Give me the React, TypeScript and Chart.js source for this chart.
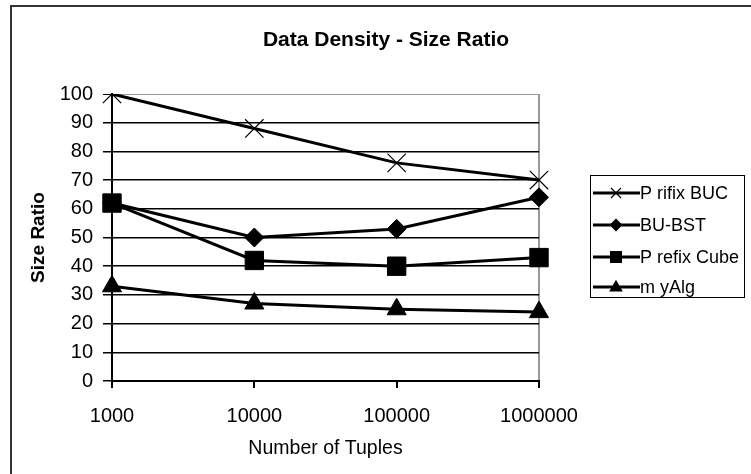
import React, { useEffect, useRef } from "react";
import { Chart, registerables } from "chart.js";

Chart.register(...registerables);

const categories = ["1000", "10000", "100000", "1000000"];
const prifixBUC = [100, 88, 76, 70];
const buBST = [62, 50, 53, 64];
const prefixCube = [62, 42, 40, 43];
const myAlg = [33, 27, 25, 24];
const seriesLabels = ["P rifix BUC", "BU-BST", "P refix Cube", "m yAlg"];
const chartTitle = "Data Density - Size Ratio";
const xTitle = "Number of Tuples";
const yTitle = "Size Ratio";

const FONT = "Arial, 'Liberation Sans', sans-serif";

function drawMarker(ctx: CanvasRenderingContext2D, style: string, x: number, y: number, r: number) {
  ctx.save();
  ctx.fillStyle = "#000";
  ctx.strokeStyle = "#000";
  ctx.lineWidth = 1.2;
  ctx.beginPath();
  if (style === "crossRot") {
    ctx.moveTo(x - r, y - r);
    ctx.lineTo(x + r, y + r);
    ctx.moveTo(x + r, y - r);
    ctx.lineTo(x - r, y + r);
    ctx.stroke();
  } else if (style === "rectRot") {
    ctx.moveTo(x, y - r);
    ctx.lineTo(x + r, y);
    ctx.lineTo(x, y + r);
    ctx.lineTo(x - r, y);
    ctx.closePath();
    ctx.fill();
  } else if (style === "rect") {
    ctx.rect(x - r, y - r, r * 2, r * 2);
    ctx.fill();
  } else if (style === "triangle") {
    ctx.moveTo(x, y - r * 1.1);
    ctx.lineTo(x + r * 1.05, y + r * 0.7);
    ctx.lineTo(x - r * 1.05, y + r * 0.7);
    ctx.closePath();
    ctx.fill();
  }
  ctx.restore();
}

const decorPlugin = {
  id: "decor",
  afterDraw(chart: any) {
    const ctx = chart.ctx as CanvasRenderingContext2D;
    // title centred on the chart frame
    ctx.save();
    ctx.fillStyle = "#000";
    ctx.font = `bold 21px ${FONT}`;
    ctx.textAlign = "center";
    ctx.textBaseline = "middle";
    ctx.fillText(chartTitle, 386, 40);
    ctx.restore();

    const left = 590, top = 175, right = 744, bottom = 297;
    ctx.save();
    ctx.fillStyle = "#fff";
    ctx.fillRect(left, top, right - left, bottom - top);
    ctx.strokeStyle = "#000";
    ctx.lineWidth = 1;
    ctx.strokeRect(left + 0.5, top + 0.5, right - left, bottom - top);
    const ys = [193, 225, 257, 287];
    chart.data.datasets.forEach((ds: any, i: number) => {
      const y = ys[i];
      ctx.strokeStyle = "#000";
      ctx.lineWidth = 3;
      ctx.beginPath();
      ctx.moveTo(593, y);
      ctx.lineTo(640, y);
      ctx.stroke();
      const sz = ds.pointStyle === "crossRot" ? 5 : ds.pointStyle === "rect" ? 6 : ds.pointStyle === "triangle" ? 6.5 : 6.5;
      drawMarker(ctx, ds.pointStyle, 616, y, sz);
      ctx.fillStyle = "#000";
      ctx.font = `18px ${FONT}`;
      ctx.textBaseline = "middle";
      ctx.textAlign = "left";
      ctx.fillText(ds.label, 640, y + 1);
    });
    ctx.restore();
  },
};

export default function App() {
  const ref = useRef<HTMLCanvasElement>(null);
  useEffect(() => {
    document.body.style.margin = "0";
    const mk = (label: string, data: number[], pointStyle: string, radius: number) => ({
      label,
      data,
      borderColor: "#000",
      backgroundColor: "#000",
      borderWidth: 3,
      pointStyle,
      pointRadius: radius,
      pointBorderWidth: pointStyle === "crossRot" ? 1.2 : 1,
      pointBorderColor: "#000",
      pointBackgroundColor: "#000",
      tension: 0,
    });
    const chart = new Chart(ref.current!, {
      type: "line",
      data: {
        labels: categories,
        datasets: [
          mk(seriesLabels[0], prifixBUC, "crossRot", 13),
          mk(seriesLabels[1], buBST, "rectRot", 9.5),
          mk(seriesLabels[2], prefixCube, "rect", 13),
          mk(seriesLabels[3], myAlg, "triangle", 11),
        ],
      },
      options: {
        animation: false,
        responsive: false,
        layout: { padding: { left: 0, right: 212, top: 94, bottom: 0 } },
        plugins: {
          legend: { display: false },
          tooltip: { enabled: false },
          title: { display: false },
        },
        scales: {
          x: {
            type: "category",
            offset: false,
            afterFit: (s: any) => { s.height = 93; },
            grid: {
              display: true,
              drawOnChartArea: true,
              color: (c: any) => (c.index === 3 ? "#999" : "rgba(0,0,0,0)"),
              tickColor: "#000",
              tickLength: 7,
              lineWidth: 2,
            },
            border: { display: true, color: "#000", width: 2 },
            ticks: { color: "#000", font: { family: FONT, size: 20 }, padding: 16, maxRotation: 0 },
            title: {
              display: true,
              text: xTitle,
              color: "#000",
              font: { family: FONT, size: 19.5 },
              padding: { top: 0, bottom: 14 },
            },
          },
          y: {
            min: 0,
            max: 100,
            afterFit: (s: any) => { s.width = 112; },
            grid: {
              color: (c: any) => (c.tick && c.tick.value === 100 ? "#999" : "#000"),
              tickColor: "#000",
              tickLength: 9,
              lineWidth: (c: any) => (c.tick && c.tick.value === 100 ? 1 : 1.5),
            },
            border: { display: true, color: "#000", width: 2 },
            ticks: { stepSize: 10, color: "#000", font: { family: FONT, size: 20 }, padding: 10 },
            title: {
              display: true,
              text: yTitle,
              color: "#000",
              font: { family: FONT, size: 19, weight: "bold" },
              padding: { top: 27, bottom: 0 },
            },
          },
        },
      },
      plugins: [decorPlugin],
    });
    return () => chart.destroy();
  }, []);
  return (
    <div style={{ position: "absolute", left: 0, top: 0, width: 751, height: 474, background: "#fff" }}>
      <canvas ref={ref} width={751} height={474} style={{ position: "absolute", left: 0, top: 0 }} />
      <div style={{ position: "absolute", left: 10, top: 5, width: 741, height: 469, borderTop: "2px solid #333", borderLeft: "2px solid #333" }} />
    </div>
  );
}
